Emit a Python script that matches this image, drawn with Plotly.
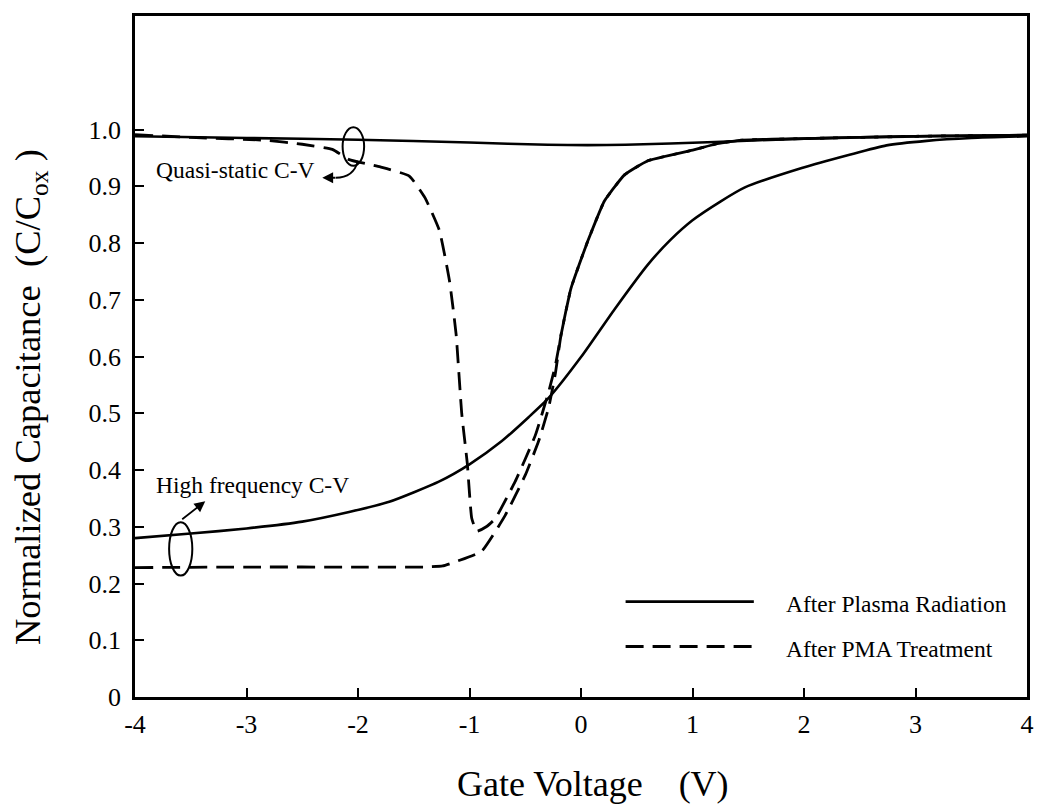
import plotly.graph_objects as go

FONT = "Liberation Serif"

# ---------------- data ----------------
# After Plasma Radiation - high frequency C-V (solid)
hf_plasma_v = [-4.0, -3.5, -3.0, -2.5, -2.08, -1.72, -1.27, -1.0, -0.71, -0.47, -0.29,
               0.0, 0.3, 0.6, 0.8, 1.0, 1.25, 1.47, 1.98, 2.4, 2.74, 3.1, 3.5, 4.0]
hf_plasma_c = [0.280, 0.288, 0.297, 0.309, 0.326, 0.344, 0.380, 0.410, 0.451, 0.493, 0.527,
               0.599, 0.683, 0.762, 0.805, 0.840, 0.873, 0.898, 0.932, 0.955, 0.972, 0.980, 0.985, 0.988]

# After Plasma Radiation - quasi-static C-V (solid)
qs_plasma_v = [-4.0, -3.0, -2.0, -1.0, -0.3, 0.4, 1.2, 2.0, 3.0, 4.0]
qs_plasma_c = [0.988, 0.985, 0.982, 0.977, 0.973, 0.973, 0.978, 0.984, 0.988, 0.990]

# After PMA Treatment - quasi-static C-V (dashed)
qs_pma_v = [-4.0, -3.5, -2.82, -2.5, -2.23, -2.08, -1.8, -1.54, -1.40, -1.27, -1.18, -1.12,
            -1.07, -1.02, -0.98, -0.935, -0.85, -0.77, -0.59, -0.41, -0.29, -0.23, -0.18,
            -0.09, 0.06, 0.21, 0.39, 0.6, 1.01, 1.22, 1.42, 2.0, 3.0, 4.0]
qs_pma_c = [0.991, 0.986, 0.981, 0.974, 0.965, 0.947, 0.934, 0.918, 0.880, 0.822, 0.734, 0.639,
            0.500, 0.412, 0.315, 0.292, 0.300, 0.314, 0.380, 0.461, 0.538, 0.584, 0.637,
            0.720, 0.803, 0.874, 0.920, 0.945, 0.964, 0.975, 0.981, 0.984, 0.988, 0.990]

# After PMA Treatment - high frequency C-V (dashed)
hf_pma_v = [-4.0, -3.0, -2.0, -1.4, -1.24, -1.1, -0.89, -0.68, -0.5, -0.38, -0.29, -0.23,
            -0.18, -0.09, 0.06, 0.21, 0.39, 0.6, 1.01, 1.22, 1.42, 2.0, 3.0, 4.0]
hf_pma_c = [0.228, 0.229, 0.229, 0.229, 0.231, 0.240, 0.257, 0.320, 0.391, 0.451, 0.510, 0.570,
            0.637, 0.720, 0.803, 0.874, 0.920, 0.945, 0.964, 0.975, 0.981, 0.984, 0.988, 0.990]

x_tick_vals = [-4, -3, -2, -1, 0, 1, 2, 3, 4]
x_tick_text = ["-4", "-3", "-2", "-1", "0", "1", "2", "3", "4"]
y_tick_vals = [0, 0.1, 0.2, 0.3, 0.4, 0.5, 0.6, 0.7, 0.8, 0.9, 1.0]
y_tick_text = ["0", "0.1", "0.2", "0.3", "0.4", "0.5", "0.6", "0.7", "0.8", "0.9", "1.0"]

series_names = ["After Plasma Radiation", "After PMA Treatment"]

# ---------------- styles ----------------
DASH = "18px,9px"
SOLID_W = 2.6
DASH_W = 2.8
NOTE_SIZE = 23.5

fig = go.Figure()
fig.add_trace(go.Scatter(x=hf_plasma_v, y=hf_plasma_c, mode="lines",
                         line=dict(color="black", width=SOLID_W, shape="spline", smoothing=0.6),
                         showlegend=False, name=series_names[0]))
fig.add_trace(go.Scatter(x=qs_plasma_v, y=qs_plasma_c, mode="lines",
                         line=dict(color="black", width=SOLID_W, shape="spline", smoothing=0.6),
                         showlegend=False, name=series_names[0]))
fig.add_trace(go.Scatter(x=qs_pma_v, y=qs_pma_c, mode="lines",
                         line=dict(color="black", width=DASH_W, dash=DASH, shape="spline", smoothing=0.4),
                         showlegend=False, name=series_names[1]))
fig.add_trace(go.Scatter(x=hf_pma_v, y=hf_pma_c, mode="lines",
                         line=dict(color="black", width=DASH_W, dash=DASH, shape="spline", smoothing=0.4),
                         showlegend=False, name=series_names[1]))

axis_common = dict(showline=True, linecolor="black", linewidth=2.5, mirror=True,
                   ticks="inside", ticklen=9, tickwidth=2, tickcolor="black",
                   showgrid=False, zeroline=False,
                   tickfont=dict(family=FONT, size=26, color="black"))

fig.update_layout(
    width=1043, height=804,
    margin=dict(l=135, r=9, t=16, b=107),
    paper_bgcolor="white", plot_bgcolor="white",
    font=dict(family=FONT, color="black"),
    xaxis=dict(range=[-4, 4], tickvals=x_tick_vals, ticktext=x_tick_text,
               ticklabelstandoff=2, **axis_common),
    yaxis=dict(range=[0, 1.2], tickvals=y_tick_vals, ticktext=y_tick_text,
               ticklabelstandoff=6, **axis_common),
)

# axis titles
fig.add_annotation(xref="paper", yref="paper", x=-0.117, y=0.44, textangle=-90,
                   text="Normalized Capacitance\u00a0\u00a0(C/C<sub>ox</sub>\u00a0)",
                   showarrow=False, font=dict(family=FONT, size=36.5, color="black"),
                   xanchor="center", yanchor="middle")
fig.add_annotation(xref="paper", yref="paper", x=0.514, y=-0.128,
                   text="Gate Voltage\u00a0\u00a0\u00a0 (V)",
                   showarrow=False, font=dict(family=FONT, size=36, color="black"),
                   xanchor="center", yanchor="middle")

# legend drawn inside plot
LEG_X0, LEG_X1, LEG_TX = 0.40, 1.55, 1.82
LEG_Y = [0.168, 0.089]
fig.add_shape(type="line", xref="x", yref="y", x0=LEG_X0, x1=LEG_X1, y0=LEG_Y[0], y1=LEG_Y[0],
              line=dict(color="black", width=SOLID_W))
fig.add_shape(type="line", xref="x", yref="y", x0=LEG_X0, x1=LEG_X1, y0=LEG_Y[1], y1=LEG_Y[1],
              line=dict(color="black", width=DASH_W, dash=DASH))
for nm, yy in zip(series_names, LEG_Y):
    fig.add_annotation(xref="x", yref="y", x=LEG_TX, y=yy - 0.004, text=nm, showarrow=False,
                       xanchor="left", yanchor="middle",
                       font=dict(family=FONT, size=NOTE_SIZE, color="black"))

# callout ellipses
fig.add_shape(type="circle", xref="x", yref="y", x0=-2.138, x1=-1.945, y0=0.936, y1=1.004,
              line=dict(color="black", width=2))
fig.add_shape(type="circle", xref="x", yref="y", x0=-3.694, x1=-3.486, y0=0.214, y1=0.308,
              line=dict(color="black", width=2))

# callout labels
fig.add_annotation(xref="x", yref="y", x=-3.10, y=0.928, text="Quasi-static C-V", showarrow=False,
                   xanchor="center", yanchor="middle", font=dict(family=FONT, size=NOTE_SIZE, color="black"))
fig.add_annotation(xref="x", yref="y", x=-2.95, y=0.373, text="High frequency C-V", showarrow=False,
                   xanchor="center", yanchor="middle", font=dict(family=FONT, size=NOTE_SIZE, color="black"))

# connectors with arrowheads
fig.add_shape(type="path", xref="x", yref="y",
              path="M -2.00,0.945 Q -2.04,0.915 -2.2,0.915",
              line=dict(color="black", width=1.8))
fig.add_annotation(xref="x", yref="y", axref="x", ayref="y",
                   x=-2.32, y=0.915, ax=-2.19, ay=0.915, text="", showarrow=True,
                   arrowhead=2, arrowsize=1.2, arrowwidth=1.8, arrowcolor="black")
fig.add_annotation(xref="x", yref="y", axref="x", ayref="y",
                   x=-3.37, y=0.345, ax=-3.59, ay=0.311, text="", showarrow=True,
                   arrowhead=2, arrowsize=1.2, arrowwidth=1.8, arrowcolor="black")

fig.write_html("out.html")
